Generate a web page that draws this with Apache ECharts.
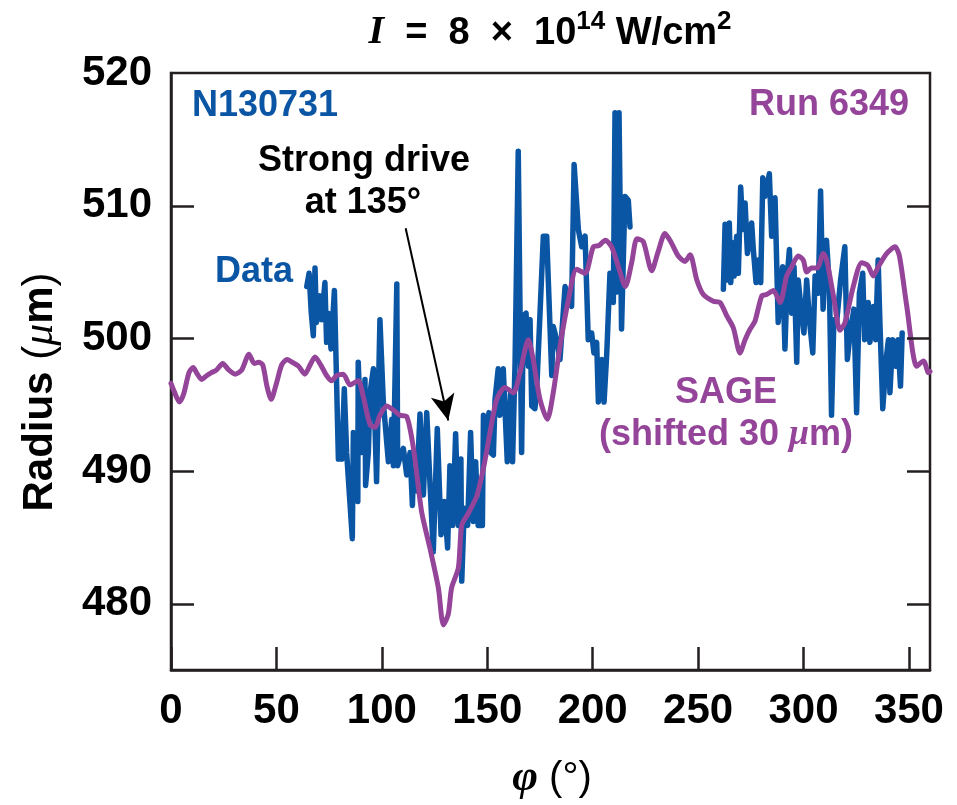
<!DOCTYPE html>
<html>
<head>
<meta charset="utf-8">
<title>Radius vs azimuth</title>
<script src="https://cdn.jsdelivr.net/npm/echarts@6/dist/echarts.min.js"></script>
<style>
  html, body { margin: 0; padding: 0; background: #ffffff; }
  #chart { width: 957px; height: 805px; }
</style>
</head>
<body>
<div id="chart"></div>
<script>
// Measured radius (N130731), first arc of azimuth: [phi (deg), radius (um)]
const dataArcA = [
  [64.4,503.9],[65.5,504.9],[66.5,502.0],[67.5,500.2],[68.3,505.3],[69,501.2],[70.7,503.2],[71.5,501.4],
  [73,504.2],[73.8,499.7],[74.6,501.9],[75.9,499.2],[77.5,503.6],[79.4,490.9],[81,490.9],[82.2,496.2],
  [83.3,491.4],[86,484.9],[86.5,492.9],[88.6,487.7],[88.8,498.2],[90.4,491.4],[92,496.9],[92.3,488.9],
  [93.6,491.4],[94.4,495.9],[96,497.7],[97.5,489.2],[99.1,501.4],[100.7,495.2],[103.1,490.7],[104.7,493.9],
  [105.5,490.4],[107.1,504.1],[107.5,490.4],[109,491.2],[110.2,491.7],[111.8,489.7],[113.4,491.4],[114.5,487.4],
  [115,490.2],[116.5,488.5],[118.1,494.3],[119.7,488.2],[121.3,494.4],[122.8,489.2],[124.4,483.9],[126.3,493.2],
  [128.1,485.2],[129.7,487.7],[131.2,484.2],[132.3,490.4],[133.6,485.9],[135,492.8],[136.3,485.9],[137.5,490.9],
  [137.9,481.7],[139.1,487.2],[140.7,485.9],[142.1,492.9],[143.4,486.2],[144.5,490.7],[145.7,485.9],[147.7,485.9],
  [148.2,494.2],[149.7,491.7],[150.8,494.4],[151.6,491.4],[152.9,491.2],[153.7,495.4],[155.2,497.7],[156,494.2],
  [157.6,497.7],[159.5,490.7],[161.1,495.9],[162,490.7],[163.2,498.2],[164.7,514.1],[166.3,491.4],[167.1,501.7],
  [168.4,501.9],[169.5,497.9],[170.3,501.4],[171.1,494.9],[172.6,494.7],[173.4,495.9],[176.6,507.7],[178.2,507.7],
  [180.6,497.2],[181.3,500.9],[182.9,499.9],[184.5,498.4],[186.9,503.9],[190,502.4],[191.2,513.1],[193.2,508.2],
  [194.8,506.9],[196.4,507.7],[197.9,499.9],[199.5,500.4],[200.6,498.9],[201.9,499.7],[202.7,495.2],[204.3,498.4],
  [205.4,495.2],[206.7,498.9],[208.2,504.9],[209.8,502.7],[210.6,517.0],[211.5,503.5],[212.5,517.0],[213.7,500.7],
  [215.3,510.7],[216.9,510.4],[217.7,508.4]
];

// Measured radius (N130731), second arc of azimuth
const dataArcB = [
  [262,503.7],[262.8,508.6],[263.9,504.4],[264.8,508.7],[265.5,504.2],[266.4,507.2],[267.1,504.7],[268.3,507.7],
  [269.1,504.9],[270.2,511.4],[271.2,508.2],[272.3,510.2],[273.4,506.4],[274.3,507.4],[275.4,508.7],[276.2,506.7],
  [277.5,504.2],[278.6,505.9],[279.7,504.2],[280.7,512.1],[281.7,510.7],[282.5,511.2],[283.8,512.4],[284.9,507.7],
  [286.5,510.6],[288,501.2],[289.2,503.9],[290.1,505.4],[291.2,499.2],[292.3,504.7],[293.3,506.7],[294.4,501.9],
  [295.5,505.4],[296.8,498.2],[297.5,504.4],[299,502.0],[300.2,500.4],[301.5,504.4],[302.8,501.4],[304.4,498.9],
  [305.5,504.7],[307,503.4],[308.1,511.1],[309.3,502.2],[310.9,507.4],[312.3,503.9],[313.3,494.2],[314.4,501.4],
  [315.7,501.2],[317.6,504.4],[319.6,506.9],[320.8,498.4],[322,500.2],[323.9,502.2],[325.2,494.4],[326.5,503.4],
  [328.1,504.9],[329,499.9],[330.7,502.7],[331.5,499.7],[333.1,502.4],[334.2,499.9],[335.4,505.9],[336.2,501.4],
  [337.6,494.7],[339.2,498.4],[340.3,499.9],[341,495.9],[342.3,499.9],[343.7,497.9],[344.8,499.9],[346,496.4],
  [346.8,500.4]
];

// SAGE simulation, run 6349, shifted by 30 um: [phi (deg), radius (um)]
const sageRun = [
  [0,496.6],[1.5,496.0],[4,495.2],[6,495.8],[8.5,497.4],[10.5,497.8],[12.5,497.3],[14.5,496.9],[17,497.2],
  [19,497.4],[21.5,497.6],[24.5,498.1],[27.5,497.6],[30.5,497.3],[33.5,497.6],[37,498.8],[39.5,498.1],
  [41.5,498.2],[43.5,498.0],[45.5,496.4],[47.5,495.4],[50,496.6],[52.5,498.0],[55,498.4],[57.5,498.2],
  [60.5,497.9],[63.5,497.3],[66,498.0],[68.3,498.6],[71,498.0],[73.8,497.2],[76.2,496.8],[78.6,497.2],
  [81.7,497.3],[84.9,496.5],[88.8,496.8],[91.2,495.6],[94.4,493.5],[96.8,493.3],[99.1,494.2],[102.3,494.9],
  [105.5,494.6],[108.6,494.2],[111.8,494.1],[115,491.7],[118.9,486.9],[122.8,484.2],[126.8,481.2],[129.2,478.4],
  [131.5,479.2],[133.1,481.2],[136.3,482.7],[137.9,485.9],[141,486.8],[145,488.1],[148.2,490.2],[151.3,492.9],
  [154.5,495.4],[158.4,496.3],[162.4,495.9],[165.5,497.4],[169.5,499.9],[171.8,498.4],[175,495.4],[178.5,493.9],
  [181.3,495.9],[184.5,499.4],[188.5,502.9],[192.4,505.2],[196.4,504.9],[200.3,506.9],[203,507.0],[206,507.4],
  [209,506.9],[212.2,505.4],[215.5,503.9],[218.5,505.7],[221,507.5],[224,507.3],[228,505.1],[231,506.5],
  [234.3,507.9],[237,507.3],[240.6,506.2],[243.8,505.8],[246.2,506.3],[249.4,504.4],[252.5,503.3],[257.2,502.8],
  [260.4,502.7],[263.6,501.7],[266.7,500.8],[269.9,498.9],[272.3,499.9],[274.7,500.7],[277,501.3],[280.2,503.2],
  [282.5,503.3],[285.7,503.6],[288.9,502.7],[292,504.7],[294.4,505.4],[297.5,506.2],[299.9,505.9],[301.5,505.0],
  [303.8,505.3],[306.5,505.3],[309.4,506.4],[311,505.9],[314.2,503.2],[317.3,500.6],[319.7,501.2],[323.6,503.9],
  [327.6,505.7],[330.5,505.5],[333.1,504.7],[335.5,505.4],[339.5,506.4],[343.4,506.9],[345.5,506.2],[349,502.4],
  [353.7,497.9],[356.9,498.3],[359.3,497.4],[360,497.5]
];

// Axis ticks and labels
const phiTicks = [0, 50, 100, 150, 200, 250, 300, 350];
const radiusLabels = [480, 490, 500, 510, 520];
const radiusTicks = [480, 490, 500, 510];

// Arrow pointing at the strongly driven azimuth: [tail, head] in [phi, radius]
const arrowTail = [111.3, 508.3];
const arrowHead = [131.5, 493.8];

const BLUE = '#0a55a4';
const PURPLE = '#944499';
const INK = '#231f20';
const SANS = "'Liberation Sans', Arial, Helvetica, sans-serif";
const SERIF = "'Liberation Serif', 'Times New Roman', serif";
const TICK_LEN = 23;

const chart = echarts.init(document.getElementById('chart'), null, { renderer: 'canvas' });

const axisLineStyle = { color: INK, width: 2.5 };
const labelStyle = { fontFamily: SANS, fontWeight: 'bold', fontSize: 42, color: '#000' };

const textItems = [
  {
    // Title: laser intensity
    type: 'text', x: 550, y: 31,
    style: {
      text: '{i|I}{b|  =  8  ×  10}{s|14}{b| W/cm}{s|2}', align: 'center', verticalAlign: 'middle',
      rich: {
        i: { font: "italic bold 40px " + SERIF, fill: '#000', lineHeight: 44, verticalAlign: 'bottom' },
        b: { font: "bold 38px " + SANS, fill: '#000', lineHeight: 44, verticalAlign: 'bottom' },
        s: { font: "bold 26px " + SANS, fill: '#000', lineHeight: 44, verticalAlign: 'top' }
      }
    }
  },
  { type: 'text', x: 192, y: 106, style: { text: 'N130731', font: "bold 36px " + SANS, fill: BLUE, align: 'left', verticalAlign: 'middle' } },
  { type: 'text', x: 909, y: 105, style: { text: 'Run 6349', font: "bold 36px " + SANS, fill: PURPLE, align: 'right', verticalAlign: 'middle' } },
  { type: 'text', x: 364, y: 161, style: { text: 'Strong drive', font: "bold 36px " + SANS, fill: '#000', align: 'center', verticalAlign: 'middle' } },
  { type: 'text', x: 363, y: 203, style: { text: 'at 135°', font: "bold 36px " + SANS, fill: '#000', align: 'center', verticalAlign: 'middle' } },
  { type: 'text', x: 215, y: 272, style: { text: 'Data', font: "bold 36px " + SANS, fill: BLUE, align: 'left', verticalAlign: 'middle' } },
  { type: 'text', x: 726, y: 393, style: { text: 'SAGE', font: "bold 36px " + SANS, fill: PURPLE, align: 'center', verticalAlign: 'middle' } },
  {
    type: 'text', x: 726, y: 435,
    style: {
      text: '{p|(shifted 30 }{m|μ}{p|m)}', align: 'center', verticalAlign: 'middle',
      rich: {
        p: { font: "bold 36px " + SANS, fill: PURPLE },
        m: { font: "italic bold 36px " + SERIF, fill: PURPLE }
      }
    }
  },
  {
    // Vertical axis title
    type: 'text', x: 40, y: 392, rotation: Math.PI / 2,
    style: {
      text: '{b|Radius }{n|(}{m|μ}{b|m}{n|)}', align: 'center', verticalAlign: 'middle',
      rich: {
        b: { font: "bold 42px " + SANS, fill: '#000' },
        n: { font: "42px " + SANS, fill: '#000' },
        m: { font: "italic 44px " + SERIF, fill: '#000' }
      }
    }
  },
  {
    // Horizontal axis title
    type: 'text', x: 552, y: 779,
    style: {
      text: '{f|φ}{n| (°)}', align: 'center', verticalAlign: 'middle',
      rich: {
        f: { font: "italic bold 44px " + SERIF, fill: '#000' },
        n: { font: "40px " + SANS, fill: '#000' }
      }
    }
  }
];

chart.setOption({
  animation: false,
  backgroundColor: '#ffffff',
  grid: { left: 171, right: 27, top: 73, bottom: 135, show: true, borderColor: INK, borderWidth: 2.5, backgroundColor: 'transparent' },
  xAxis: {
    type: 'value', min: 0, max: 360, interval: 50, position: 'bottom',
    axisLine: { show: true, lineStyle: axisLineStyle },
    axisTick: { show: true, inside: true, length: TICK_LEN, lineStyle: axisLineStyle, customValues: phiTicks },
    axisLabel: Object.assign({ margin: 20, customValues: phiTicks }, labelStyle),
    splitLine: { show: false }
  },
  yAxis: {
    type: 'value', min: 475, max: 520, position: 'left',
    axisLine: { show: true, lineStyle: axisLineStyle },
    axisTick: { show: false },
    axisLabel: Object.assign({ margin: 19, customValues: radiusLabels }, labelStyle),
    splitLine: { show: false }
  },
  series: [
    {
      name: 'Data', type: 'line', data: dataArcA, symbol: 'none',
      lineStyle: { color: BLUE, width: 5.5, join: 'round', cap: 'round' }, z: 2
    },
    {
      name: 'Data (arc 2)', type: 'line', data: dataArcB, symbol: 'none',
      lineStyle: { color: BLUE, width: 5.5, join: 'round', cap: 'round' }, z: 2
    },
    {
      name: 'SAGE', type: 'line', data: sageRun, symbol: 'none', smooth: 0.25,
      lineStyle: { color: PURPLE, width: 5, join: 'round', cap: 'round' }, z: 3,
      markLine: {
        silent: true,
        symbol: ['none', 'arrow'],
        symbolSize: [18, 26],
        label: { show: false },
        lineStyle: { color: '#000', width: 2, type: 'solid' },
        data: [[{ coord: arrowTail }, { coord: arrowHead }]]
      }
    }
  ],
  graphic: textItems
});

// Inward radius ticks on both vertical frame edges, placed through the y scale
const xLeft = chart.convertToPixel({ xAxisIndex: 0 }, 0);
const xRight = chart.convertToPixel({ xAxisIndex: 0 }, 360);
const yTicks = [];
radiusTicks.forEach(function (v) {
  const y = Math.round(chart.convertToPixel({ yAxisIndex: 0 }, v)) + 0.5;
  [[xLeft, xLeft + TICK_LEN], [xRight - TICK_LEN, xRight]].forEach(function (span) {
    yTicks.push({
      type: 'line', silent: true, z: 10,
      shape: { x1: span[0], y1: y, x2: span[1], y2: y },
      style: { stroke: INK, lineWidth: 2.5 }
    });
  });
});
chart.setOption({ graphic: textItems.concat(yTicks) });
</script>
</body>
</html>
